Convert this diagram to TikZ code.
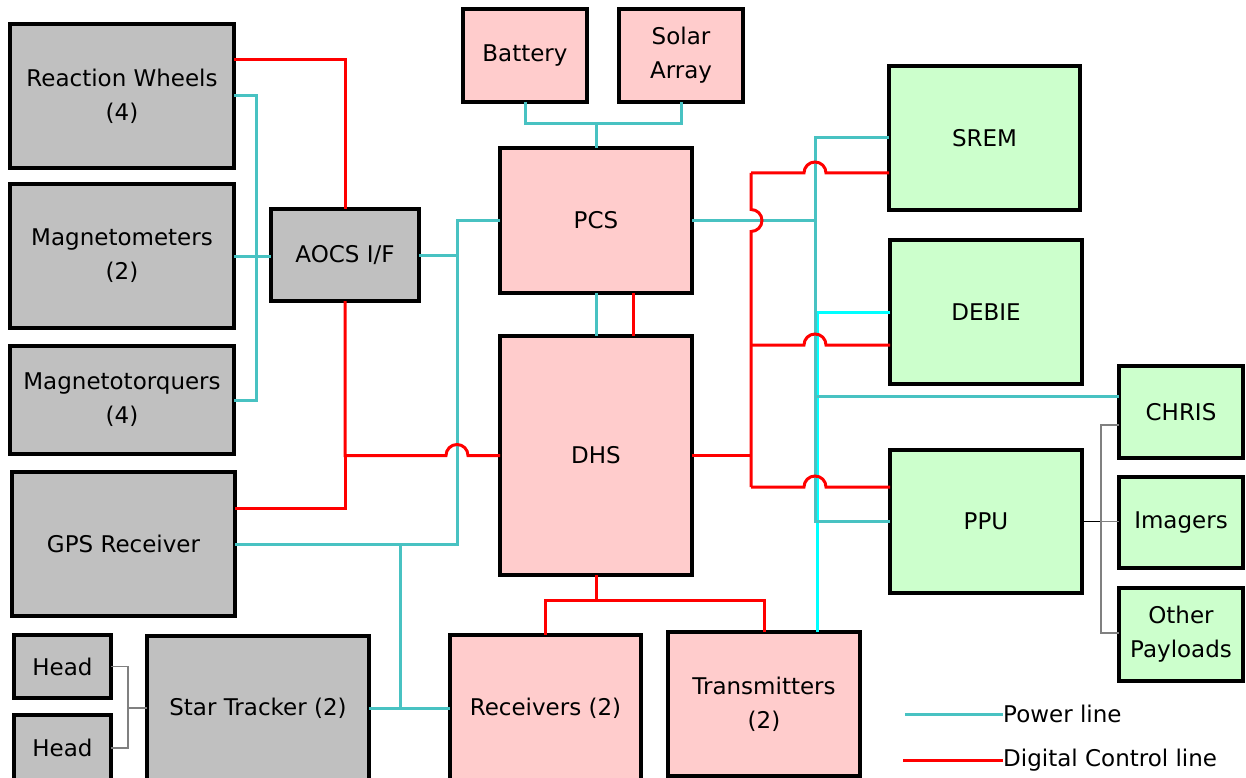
\documentclass[tikz,border=0pt]{standalone}
\usepackage{fontspec}
\setmainfont{DejaVu Sans}
\usetikzlibrary{calc}
\definecolor{boxgray}{RGB}{192,192,192}
\definecolor{boxpink}{RGB}{255,204,204}
\definecolor{boxgreen}{RGB}{204,255,204}
\definecolor{pwr}{RGB}{72,194,194}
\definecolor{pwrcyan}{RGB}{0,255,255}
\definecolor{ctl}{RGB}{255,0,0}
\definecolor{thingray}{RGB}{128,128,128}
\tikzset{
  blk/.style={draw=black, line width=3.4pt, inner sep=0pt, outer sep=0pt, align=center,
    font=\fontsize{23}{34}\selectfont},
  gbox/.style={blk, fill=boxgray},
  pbox/.style={blk, fill=boxpink},
  ebox/.style={blk, fill=boxgreen},
  pline/.style={draw=pwr, line width=3pt},
  cline/.style={draw=pwrcyan, line width=3pt},
  rline/.style={draw=ctl, line width=3pt},
  tline/.style={draw=thingray, line width=1.6pt},
  kline/.style={draw=black, line width=1.6pt},
  legtext/.style={anchor=west, inner sep=0pt, font=\fontsize{23}{28}\selectfont},
}
\begin{document}
\begin{tikzpicture}[x=1pt, y=-1pt]
\useasboundingbox (0,0) rectangle (1246,778);
\clip (0,0) rectangle (1246,778);
\fill[white] (0,0) rectangle (1246,778);

% ---- boxes ----
\node[gbox, minimum width=224, minimum height=144] (rw) at (122,96) {Reaction Wheels\\(4)};
\node[gbox, minimum width=224, minimum height=144] (mag) at (122,256) {Magnetometers\\(2)};
\node[gbox, minimum width=224, minimum height=108] (mtq) at (122,400) {Magnetotorquers\\(4)};
\node[gbox, minimum width=223, minimum height=144] (gps) at (123.5,544) {GPS Receiver};
\node[gbox, minimum width=97, minimum height=63] (head1) at (62.5,666.5) {Head};
\node[gbox, minimum width=97, minimum height=66] (head2) at (62.5,748) {Head};
\node[gbox, minimum width=222, minimum height=144] (star) at (258,708) {Star Tracker (2)};
\node[gbox, minimum width=148, minimum height=92] (aocs) at (345,255) {AOCS I/F};
\node[pbox, minimum width=124, minimum height=93] (bat) at (525,55.5) {Battery};
\node[pbox, minimum width=124, minimum height=93] (sol) at (681,55.5) {Solar\\Array};
\node[pbox, minimum width=192, minimum height=145] (pcs) at (596,220.5) {PCS};
\node[pbox, minimum width=192, minimum height=239] (dhs) at (596,455.5) {DHS};
\node[pbox, minimum width=191, minimum height=146] (rec) at (545.5,708) {Receivers (2)};
\node[pbox, minimum width=192, minimum height=144] (tx) at (764,704) {Transmitters\\(2)};
\node[ebox, minimum width=191, minimum height=144] (srem) at (984.5,138) {SREM};
\node[ebox, minimum width=192, minimum height=144] (debie) at (986,312) {DEBIE};
\node[ebox, minimum width=124, minimum height=92] (chris) at (1181,412) {CHRIS};
\node[ebox, minimum width=192, minimum height=143] (ppu) at (986,521.5) {PPU};
\node[ebox, minimum width=124, minimum height=91] (img) at (1181,522.5) {Imagers};
\node[ebox, minimum width=124, minimum height=93] (oth) at (1181,634.5) {Other\\Payloads};

% ---- junction coordinates ----
\coordinate (c1) at (aocs.south |- dhs.west);
\coordinate (c2) at (751,455.5);
\coordinate (c3) at (751,173);
\coordinate (c4) at (751,487);
\coordinate (c5) at (596,600);
\coordinate (t1) at (457,544);
\coordinate (t2) at (256,400);
\coordinate (t3) at (400,544);
\coordinate (t5) at (815,521.5);
\coordinate (g1) at (1101,521.5);
\coordinate (g2) at (1101,633);
\coordinate (h1) at (128,748);

% ---- power lines ----
\draw[pline] (bat.south) -- ++(0,22) -| (sol.south);
\draw[pline] (pcs.north) -- (pcs.north |- 0,124);
\draw[pline] (pcs.west) -| (t1) -- (gps.east);
\draw[pline] (aocs.east) -- (aocs.east -| t1);
\draw[pline] (rw.east) -| (t2) -- (mtq.east);
\draw[pline] (mag.east) -- (mag.east -| aocs.west);
\draw[pline] (t3) |- (star.east);
\draw[pline] (star.east) -- (rec.west);
\draw[pline] (pcs.south) -- (dhs.north);
\draw[pline] (pcs.east) -- (pcs.east -| t5);
\draw[cline] (debie.west) -| (tx.north -| 817,0);
\draw[pline] (srem.west) -| (t5) -- (ppu.west);
\draw[pline] (815,396) -- (chris.west |- 0,396);

% ---- control lines ----
\draw[rline] (rw.east |- 0,60) -| (aocs.north);
\draw[rline] (aocs.south) -- (c1) -- (446,455.5)
  arc[start angle=180, end angle=0, radius=11pt] -- (dhs.west);
\draw[rline] (gps.east |- 0,508) -| (c1);
\draw[rline] (pcs.south -| 633,0) -- (dhs.north -| 633,0);
\draw[rline] (dhs.east) -- (c2);
\draw[rline] (c3) -- (751,209.5)
  arc[start angle=90, end angle=-90, radius=11pt] -- (c4);
\draw[rline] (c3) -- (804,173) arc[start angle=180, end angle=0, radius=11pt] -- (srem.west |- c3);
\draw[rline] (751,345) -- (804,345) arc[start angle=180, end angle=0, radius=11pt] -- (debie.west |- 0,345);
\draw[rline] (c4) -- (804,487) arc[start angle=180, end angle=0, radius=11pt] -- (ppu.west |- c4);
\draw[rline] (dhs.south) -- (c5);
\draw[rline] (rec.north) |- (tx.north |- c5) -- (tx.north);

% ---- payload / head links ----
\draw[kline] (ppu.east) -- (g1);
\draw[tline] (chris.west |- 0,425) -| (g2) -- (oth.west |- g2);
\draw[tline] (g1) -- (img.west |- g1);
\draw[tline] (head1.east) -| (h1) -- (head2.east);
\draw[tline] (h1 |- star.west) -- (star.west);

% ---- legend ----
\coordinate (lp1) at (905,714);
\coordinate (lp2) at (1003,714);
\coordinate (lc1) at (903,760);
\coordinate (lc2) at (1003,760);
\draw[pline] (lp1) -- (lp2);
\draw[rline] (lc1) -- (lc2);
\node[legtext] (lpt) at (lp2) {Power line};
\node[legtext] (lct) at (lc2) {Digital Control line};
\end{tikzpicture}
\end{document}
